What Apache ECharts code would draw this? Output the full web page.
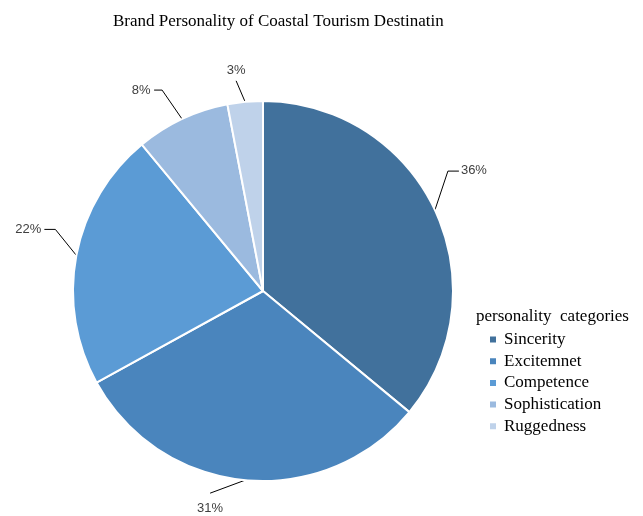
<!DOCTYPE html>
<html>
<head>
<meta charset="utf-8">
<script src="https://cdn.jsdelivr.net/npm/echarts@6/dist/echarts.min.js"></script>
<style>
html, body { margin: 0; padding: 0; background: #fff; }
#main { width: 643px; height: 516px; }
</style>
</head>
<body>
<div id="main"></div>
<script>
var categories = ['Sincerity', 'Excitemnet', 'Competence', 'Sophistication', 'Ruggedness'];
var shares = [36, 31, 22, 8, 3];
var colors = ['#41719c', '#4a85bd', '#5b9bd5', '#9bbadf', '#bfd2ea'];

// 标签摆放: off = 标签中心相对扇区外缘锚点, end/elbow = 引导线端点相对标签中心
var labelPlace = [
    { off : [39, -40], end : [-15, 1], elbow : [-26, 1] },
    { off : [-35, 28], end : [0, -15] },
    { off : [-48, -26], end : [16, 0], elbow : [27, 0] },
    { off : [-41, -29], end : [13, 0], elbow : [21, 0] },
    { off : [-9, -31], end : [0, 10] }
];

var myChart = echarts.init(document.getElementById('main'));

var pieData = categories.map(function (name, i)
{
    return {
        name : name,
        value : shares[i],
        itemStyle : { color : colors[i] }
    };
});

var option =
{
    animation : false,
    backgroundColor : '#ffffff',
    title : [
        {
            text : 'Brand Personality of Coastal Tourism Destinatin',
            left : 108,
            top : 8,
            textStyle :
            {
                fontFamily : 'Liberation Serif',
                fontSize : 17,
                fontWeight : 'normal',
                color : '#000'
            }
        },
        {
            text : 'personality  categories', //图例标题
            left : 471,
            top : 303,
            textStyle :
            {
                fontFamily : 'Liberation Serif',
                fontSize : 17,
                fontWeight : 'normal',
                color : '#000'
            }
        }
    ],
    legend :
    {
        orient : 'vertical',
        left : 483,
        top : 326,
        itemWidth : 8,
        itemHeight : 8,
        itemGap : 4.7,
        icon : 'rect',
        textStyle :
        {
            fontFamily : 'Liberation Serif',
            fontSize : 17,
            lineHeight : 17,
            padding : [0, 0, 0, 2],
            color : '#000'
        },
        data : categories
    },
    series : [
        {
            type : 'pie',
            center : [263, 291],
            radius : 190,
            startAngle : 90,
            clockwise : true,
            data : pieData,
            itemStyle :
            {
                borderColor : '#ffffff',
                borderWidth : 2
            },
            label :
            {
                show : true,
                formatter : '{c}%',
                fontFamily : 'Liberation Sans',
                fontSize : 13,
                color : '#404040',
                overflow : 'none'
            },
            labelLine :
            {
                show : true,
                length : 38,
                length2 : 12,
                lineStyle :
                {
                    color : '#000',
                    width : 1
                }
            },
            labelLayout : function (params)
            {
                var p = labelPlace[params.dataIndex];
                var a = params.labelLinePoints[0];
                var cx = a[0] + p.off[0];
                var cy = a[1] + p.off[1];
                var pts = [[a[0], a[1]]];
                if (p.elbow)
                {
                    pts.push([cx + p.elbow[0], cy + p.elbow[1]]);
                }
                pts.push([cx + p.end[0], cy + p.end[1]]);
                return {
                    x : cx,
                    y : cy,
                    align : 'center',
                    verticalAlign : 'middle',
                    labelLinePoints : pts
                };
            },
            emphasis : { disabled : true }
        }
    ]
};

myChart.setOption(option);
</script>
</body>
</html>
